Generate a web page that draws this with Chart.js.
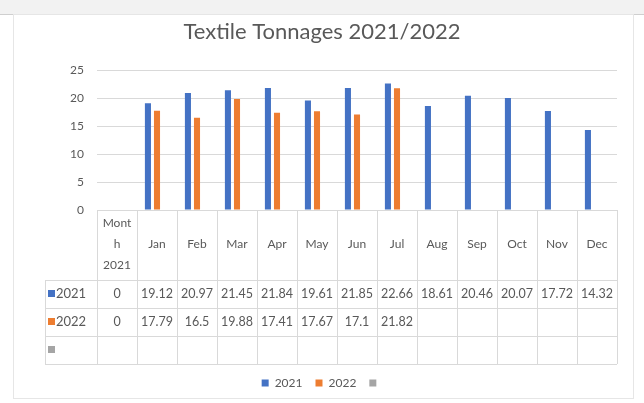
<!DOCTYPE html>
<html>
<head>
<meta charset="utf-8">
<script src="https://cdn.jsdelivr.net/npm/chart.js@4"></script>
<style>
  body { margin: 0; background: #fff; }
  canvas { display: block; }
</style>
</head>
<body>
<canvas id="chart" width="644" height="403"></canvas>
<script>
// data read from the sheet
var months = [["Mont", "h", "2021"], "Jan", "Feb", "Mar", "Apr", "May", "Jun", "Jul", "Aug", "Sep", "Oct", "Nov", "Dec"];
var tons2021 = [0, 19.12, 20.97, 21.45, 21.84, 19.61, 21.85, 22.66, 18.61, 20.46, 20.07, 17.72, 14.32];
var tons2022 = [0, 17.79, 16.5, 19.88, 17.41, 17.67, 17.1, 21.82, null, null, null, null, null];
var tonsBlank = [null, null, null, null, null, null, null, null, null, null, null, null, null];
var yTicks = [0, 5, 10, 15, 20, 25];

var textGrey = "#595959";
var lineGrey = "#d9d9d9";
var fontName = "Lato, 'Open Sans', sans-serif";

Chart.defaults.font.family = fontName;
Chart.defaults.color = textGrey;

// frame of the sheet around the chart
var framePlugin = {
    id: "frame",
    beforeDraw: function(chart) {
        var c = chart.ctx;
        c.save();
        c.fillStyle = "#f2f2f2";
        c.fillRect(0, 0, chart.width, 14);
        c.strokeStyle = "#cfcfcf";
        c.lineWidth = 1;
        c.beginPath();
        c.moveTo(0, 14.5); c.lineTo(chart.width, 14.5);
        c.stroke();
        c.strokeStyle = "#e6e6e6";
        c.strokeRect(13.5, 14.5, 620, 384);
        c.restore();
    }
};

// excel style data table under the bars
var tablePlugin = {
    id: "dataTable",
    afterDraw: function(chart) {
        var c = chart.ctx;
        var x = chart.scales.x;
        var area = chart.chartArea;
        var n = months.length;
        var colW = (area.right - area.left) / n;
        var keyLeft = 45;
        var headTop = area.bottom;
        var rowH = 28;
        var headBottom = headTop + 70;
        var rowsBottom = headBottom + rowH * 3;

        c.save();
        c.strokeStyle = lineGrey;
        c.lineWidth = 1;
        c.beginPath();
        for (var i = 0; i <= n; i++) {
            var vx = Math.round(area.left + i * colW) + 0.5;
            c.moveTo(vx, headTop);
            c.lineTo(vx, rowsBottom);
        }
        c.moveTo(keyLeft + 0.5, headBottom);
        c.lineTo(keyLeft + 0.5, rowsBottom);
        for (var r = 0; r <= 3; r++) {
            var hy = headBottom + r * rowH + 0.5;
            c.moveTo(keyLeft, hy);
            c.lineTo(area.right, hy);
        }
        c.stroke();

        c.fillStyle = textGrey;
        c.textAlign = "center";
        c.textBaseline = "middle";
        c.font = "12px " + fontName;
        for (var j = 0; j < n; j++) {
            var cx = x.getPixelForValue(j);
            var lab = months[j];
            if (Array.isArray(lab)) {
                for (var k = 0; k < lab.length; k++) {
                    c.fillText(lab[k], cx, headTop + 34 + (k - 1) * 21);
                }
            } else {
                c.fillText(lab, cx, headTop + 34);
            }
        }

        chart.data.datasets.forEach(function(ds, r) {
            var cy = headBottom + r * rowH + rowH / 2;
            c.fillStyle = ds.backgroundColor;
            c.fillRect(keyLeft + 3, cy - 4, 7, 7);
            c.fillStyle = textGrey;
            c.textAlign = "left";
            c.font = "13px " + fontName;
            c.fillText(ds.label, keyLeft + 11, cy);
            c.textAlign = "center";
            c.font = "12.5px " + fontName;
            ds.data.forEach(function(v, j) {
                if (v === null) return;
                c.fillText(String(v), x.getPixelForValue(j), cy);
            });
        });
        c.restore();
    }
};

var ctx = document.getElementById("chart").getContext("2d");
var textileChart = new Chart(ctx, {
    type: "bar",
    data: {
        labels: months,
        datasets: [{
            label: "2021",
            data: tons2021,
            backgroundColor: "#4472C4"
        }, {
            label: "2022",
            data: tons2022,
            backgroundColor: "#ED7D31"
        }, {
            label: "",
            data: tonsBlank,
            backgroundColor: "#A5A5A5"
        }]
    },
    options: {
        responsive: false,
        animation: false,
        barPercentage: 0.67,
        categoryPercentage: 0.68,
        layout: { padding: { top: 8, right: 0, bottom: 4, left: 0 } },
        plugins: {
            title: {
                display: true,
                text: "Textile Tonnages 2021/2022",
                color: textGrey,
                font: { size: 22, weight: "normal" },
                padding: { top: 11, bottom: 25 }
            },
            legend: {
                position: "bottom",
                labels: {
                    boxWidth: 7,
                    boxHeight: 7,
                    color: textGrey,
                    font: { size: 12 },
                    padding: 13
                }
            },
            tooltip: { enabled: false }
        },
        scales: {
            x: {
                grid: { display: false },
                border: { display: false },
                ticks: { display: false },
                afterFit: function(scale) { scale.height = 154; }
            },
            y: {
                min: 0,
                max: 25,
                afterBuildTicks: function(scale) {
                    scale.ticks = yTicks.map(function(v) { return { value: v }; });
                },
                grid: { color: lineGrey, drawTicks: false },
                border: { display: false },
                ticks: { color: textGrey, font: { size: 12 }, padding: 13 },
                afterFit: function(scale) { scale.width = 97; }
            },
            yRight: {
                position: "right",
                min: 0,
                max: 25,
                grid: { display: false },
                border: { display: false },
                ticks: { display: false },
                afterFit: function(scale) { scale.width = 27; }
            }
        }
    },
    plugins: [framePlugin, tablePlugin]
});
</script>
</body>
</html>
